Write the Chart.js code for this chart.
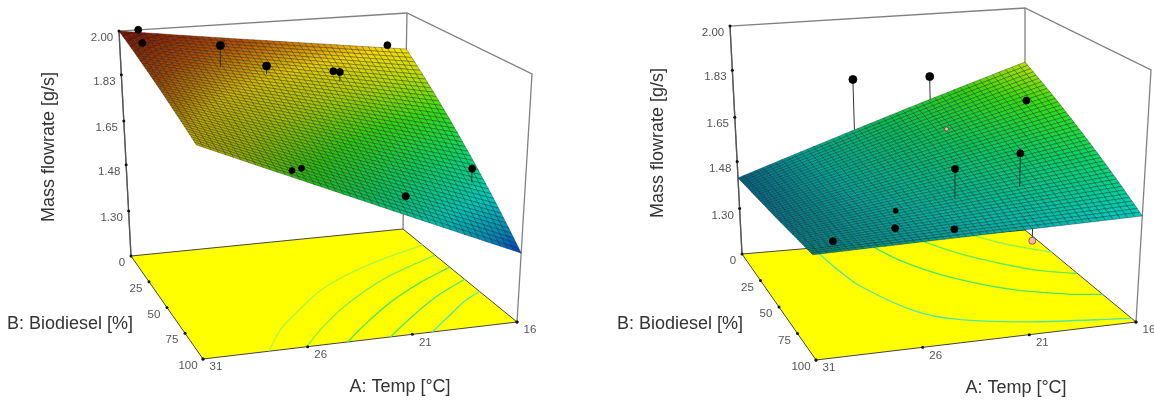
<!DOCTYPE html>
<html>
<head>
<meta charset="utf-8">
<title>Mass flowrate response surfaces</title>
<script src="https://cdn.jsdelivr.net/npm/chart.js@4/dist/chart.umd.js"></script>
<style>
  html, body { margin: 0; padding: 0; background: #fff; }
  #wrap { display: flex; width: 1154px; height: 402px; overflow: hidden; }
  canvas { display: block; }
</style>
</head>
<body>
<div id="wrap">
  <canvas id="leftChart" width="577" height="402"></canvas>
  <canvas id="rightChart" width="577" height="402"></canvas>
</div>
<script>
// axis values
const tempTicks = [31, 26, 21, 16];
const bioTicks = [0, 25, 50, 75, 100];
const flowTicks = [1.30, 1.48, 1.65, 1.83, 2.00];
const flowFloor = 1.125;

// surface heights, rows follow tempTicks, columns bioTicks
const leftSurface = [
    [2.000, 1.963, 1.926, 1.888, 1.851],
    [1.951, 1.886, 1.820, 1.755, 1.690],
    [1.903, 1.810, 1.716, 1.623, 1.529],
    [1.854, 1.733, 1.611, 1.490, 1.368]
];
const rightSurface = [
    [1.417, 1.432, 1.446, 1.461, 1.475],
    [1.540, 1.525, 1.510, 1.496, 1.481],
    [1.664, 1.620, 1.576, 1.531, 1.487],
    [1.787, 1.714, 1.640, 1.567, 1.493]
];

// design points: temp, biodiesel, measured flow, fitted flow under the point
const leftPointTemp = [30.0, 30.25, 26.8, 24.55, 20.8, 20.8, 17.0, 26.5, 25.9, 20.9, 16.75];
const leftPointBio = [0, 11, 23, 24, 23, 17, 0, 95, 91, 88, 69];
const leftPointFlow = [2.000, 1.980, 1.985, 1.897, 1.851, 1.838, 1.875, 1.720, 1.713, 1.572, 1.588];
const leftPointFit = [1.990, 1.974, 1.903, 1.867, 1.814, 1.836, 1.863, 1.718, 1.711, 1.570, 1.538];

const rightPointTemp = [24.85, 20.9, 17.2, 21.25, 23.2, 20.2, 26.0, 26.65, 24.25, 29.65, 19.75];
const rightPointBio = [0, 0, 21, 22, 70, 71, 70, 85, 93, 88, 75];
const rightPointFlow = [1.764, 1.755, 1.702, 1.620, 1.626, 1.664, 1.498, 1.487, 1.490, 1.474, 1.362];
const rightPointFit = [1.569, 1.665, 1.702, 1.620, 1.522, 1.545, 1.498, 1.487, 1.490, 1.474, 1.540];

// contour lines on the floor: level, then temp and biodiesel along the line
const leftContourLevels = [1.75, 1.69, 1.62, 1.56, 1.50];
const leftContourTemp = [
    [27.85, 26.5, 25, 22.75, 19.75, 16],
    [26.05, 24.7, 22.75, 19.75, 16],
    [24.1, 22.75, 20.5, 18.25, 16],
    [22.05, 20.5, 18.25, 16],
    [20.05, 18.7, 17.2, 16]
];
const leftContourBio = [
    [100, 81, 66, 47, 31, 17],
    [100, 85, 67, 46, 28],
    [100, 87, 68, 53, 41],
    [100, 86, 68, 54],
    [100, 88, 75, 67]
];
const rightContourLevels = [1.715, 1.645, 1.58, 1.51];
const rightContourTemp = [
    [18.9, 17.95, 17.05, 16],
    [21.75, 20.5, 19, 17.5, 16],
    [24.4, 23.5, 22, 19.75, 17.5, 16],
    [27.25, 26.95, 26.5, 25, 23.5, 20.5, 16]
];
const rightContourBio = [
    [0, 10, 17, 24],
    [0, 16, 30, 41, 47],
    [0, 19, 38, 56, 66, 70],
    [0, 19, 38, 66, 78, 88, 96]
];

// how each box sits on the page, key is temp/bio end + floor or top
const leftView = {
    min: 0, max: 577,
    c31_0f: [131, 256], c31_0t: [119, 31],
    c31_100f: [203, 359], c31_100t: [195, 101],
    c16_0f: [403, 229], c16_0t: [407, 13],
    c16_100f: [517, 322], c16_100t: [532, 74],
    radii: [3.5, 3.5, 4, 4, 3.5, 3.5, 3.5, 3, 3, 3.5, 3.5],
    fills: {},
    flowTitle: [49, 147], bioTitle: [70, 324], tempTitle: [400, 387]
};
const rightView = {
    min: 577, max: 1154,
    c31_0f: [742, 254], c31_0t: [730, 26],
    c31_100f: [816, 360], c31_100t: [808, 97],
    c16_0f: [1025, 230], c16_0t: [1025, 8],
    c16_100f: [1136, 322], c16_100t: [1151, 70],
    radii: [4, 4, 3.5, 2, 3.5, 3.5, 2.5, 3.5, 3.5, 3.5, 3.5],
    fills: { 3: '#f4b6b6', 10: '#f4b6b6' },
    flowTitle: [658, 143], bioTitle: [680, 324], tempTitle: [1016, 388]
};

const colourStops = [
    [1.37, 0, 60, 190],
    [1.42, 0, 135, 185],
    [1.50, 0, 205, 185],
    [1.60, 10, 215, 100],
    [1.70, 50, 225, 20],
    [1.79, 190, 225, 0],
    [1.86, 255, 225, 0],
    [1.93, 215, 100, 0],
    [2.00, 165, 20, 0]
];
const contourStops = [
    [1.50, 80, 230, 180],
    [1.60, 70, 230, 90],
    [1.75, 170, 245, 70]
];

function stopColour(stops, z, shade) {
    let i = 0;
    while (i < stops.length - 2 && z > stops[i + 1][0]) i++;
    const a = stops[i], b = stops[i + 1];
    const t = Math.min(1, Math.max(0, (z - a[0]) / (b[0] - a[0])));
    const mix = k => Math.round((a[k] + (b[k] - a[k]) * t) * (shade || 1));
    return 'rgb(' + mix(1) + ',' + mix(2) + ',' + mix(3) + ')';
}

// value -> page position inside the box
function project(view, temp, bio, flow) {
    const a = (31 - temp) / 15, b = bio / 100, c = (flow - flowFloor) / (2 - flowFloor);
    const corner = k => {
        const f = (1 - a) * (1 - b) * view.c31_0f[k] + a * (1 - b) * view.c16_0f[k]
            + (1 - a) * b * view.c31_100f[k] + a * b * view.c16_100f[k];
        const t = (1 - a) * (1 - b) * view.c31_0t[k] + a * (1 - b) * view.c16_0t[k]
            + (1 - a) * b * view.c31_100t[k] + a * b * view.c16_100t[k];
        return f + (t - f) * c;
    };
    return { x: corner(0), y: corner(1) };
}

function wire(points, colour, width) {
    return {
        data: points, showLine: true, borderColor: colour, borderWidth: width,
        pointRadius: 0, fill: false
    };
}

// lookup in the read table, only to lay the fine drawing mesh over it
function meshFlow(table, i, j, perTemp, perBio) {
    const r = Math.min(Math.floor(i / perTemp), table.length - 2);
    const c = Math.min(Math.floor(j / perBio), table[0].length - 2);
    const u = i / perTemp - r, v = j / perBio - c;
    return (1 - u) * (1 - v) * table[r][c] + u * (1 - v) * table[r + 1][c]
        + (1 - u) * v * table[r][c + 1] + u * v * table[r + 1][c + 1];
}

function buildDatasets(view, surface, pointTemp, pointBio, pointFlow, pointFit, levels, contourTemp, contourBio) {
    const sets = [];
    const P = (t, b, z) => project(view, t, b, z);
    const top = 2, low = flowFloor, boxGrey = '#808080';

    // back walls of the box
    sets.push(wire([P(31, 0, low), P(31, 0, top), P(16, 0, top), P(16, 100, top), P(16, 100, low)], boxGrey, 1.3));
    sets.push(wire([P(16, 0, top), P(16, 0, low)], boxGrey, 1.3));
    sets.push(wire([P(31, 0, low), P(31, 0, top)], '#555', 1.3));

    // floor
    sets.push({
        data: [P(31, 0, low), P(16, 0, low), P(16, 100, low), P(31, 100, low), P(31, 0, low)],
        showLine: true, fill: 'shape', backgroundColor: '#ffff00', borderColor: '#444',
        borderWidth: 1, pointRadius: 0
    });
    levels.forEach((level, n) => {
        const line = contourTemp[n].map((t, k) => P(t, contourBio[n][k], low));
        const set = wire(line, stopColour(contourStops, level), 1.3);
        set.tension = 0.35;
        sets.push(set);
    });

    // stems are under the surface layer only when the point is below it
    const stems = (below) => {
        pointTemp.forEach((t, k) => {
            if ((pointFlow[k] < pointFit[k]) !== below) return;
            sets.push(wire([P(t, pointBio[k], pointFit[k]), P(t, pointBio[k], pointFlow[k])], '#333', 1));
        });
    };
    stems(true);

    // surface, one filled cell per mesh square, the 31 side falls in shadow
    const perTemp = 15, perBio = 11;
    const rows = perTemp * (surface.length - 1), cols = perBio * (surface[0].length - 1);
    const tempAt = i => 31 - 15 * i / rows, bioAt = j => 100 * j / cols;
    for (let i = 0; i < rows; i++) {
        const shade = 0.74 + 0.26 * (i + 0.5) / rows;
        for (let j = 0; j < cols; j++) {
            const z00 = meshFlow(surface, i, j, perTemp, perBio);
            const z10 = meshFlow(surface, i + 1, j, perTemp, perBio);
            const z01 = meshFlow(surface, i, j + 1, perTemp, perBio);
            const z11 = meshFlow(surface, i + 1, j + 1, perTemp, perBio);
            const pts = [
                P(tempAt(i), bioAt(j), z00), P(tempAt(i + 1), bioAt(j), z10),
                P(tempAt(i + 1), bioAt(j + 1), z11), P(tempAt(i), bioAt(j + 1), z01),
                P(tempAt(i), bioAt(j), z00)
            ];
            sets.push({
                data: pts, showLine: true, fill: 'shape',
                backgroundColor: stopColour(colourStops, (z00 + z10 + z01 + z11) / 4, shade),
                borderColor: 'rgba(0,0,0,0.38)', borderWidth: 0.8, pointRadius: 0
            });
        }
    }

    stems(false);

    // axis tick marks
    const tickPts = [];
    flowTicks.forEach(z => tickPts.push(P(31, 0, z)));
    bioTicks.forEach(b => tickPts.push(P(31, b, low)));
    tempTicks.forEach(t => tickPts.push(P(t, 100, low)));
    tickPts.push(P(16, 100, low));
    sets.push({
        data: tickPts, showLine: false, pointRadius: 1.5,
        pointBackgroundColor: '#111', pointBorderWidth: 0
    });

    // design points
    const fills = view.fills;
    sets.push({
        data: pointTemp.map((t, k) => P(t, pointBio[k], pointFlow[k])),
        showLine: false,
        pointRadius: view.radii,
        pointBackgroundColor: pointTemp.map((t, k) => fills[k] || '#000'),
        pointBorderColor: pointTemp.map((t, k) => fills[k] ? '#7a3a3a' : '#000'),
        pointBorderWidth: 0.8
    });

    // chart.js paints the first dataset last
    return sets.reverse();
}

const axisText = {
    id: 'axisText',
    afterDraw(chart, args, opts) {
        const view = opts.view, ctx = chart.ctx;
        const sx = chart.scales.x, sy = chart.scales.y;
        const put = (text, pos, dx, dy, size, colour, rotate) => {
            ctx.save();
            ctx.translate(sx.getPixelForValue(pos.x + dx), sy.getPixelForValue(pos.y + dy));
            if (rotate) ctx.rotate(-Math.PI / 2);
            ctx.font = size + 'px "Liberation Sans", Arial, sans-serif';
            ctx.fillStyle = colour;
            ctx.textAlign = 'center';
            ctx.textBaseline = 'middle';
            ctx.fillText(text, 0, 0);
            ctx.restore();
        };
        const tickColour = '#555', titleColour = '#333';
        flowTicks.forEach(z => put(z.toFixed(2), project(view, 31, 0, z), -17, 7, 11.5, tickColour));
        bioTicks.forEach(b => {
            const dx = b === 0 ? -9 : b === 100 ? -15 : -13;
            put(String(b), project(view, 31, b, flowFloor), dx, 7, 11.5, tickColour);
        });
        tempTicks.forEach(t => put(String(t), project(view, t, 100, flowFloor), 13, 8, 11.5, tickColour));
        const title = (text, at, rotate) => put(text, { x: at[0], y: at[1] }, 0, 0, 18, titleColour, rotate);
        title('Mass flowrate [g/s]', view.flowTitle, true);
        title('B: Biodiesel [%]', view.bioTitle);
        title('A: Temp [\u00b0C]', view.tempTitle);
    }
};

function drawPanel(id, view, datasets) {
    return new Chart(document.getElementById(id).getContext('2d'), {
        type: 'scatter',
        data: { datasets: datasets },
        plugins: [axisText],
        options: {
            responsive: false,
            animation: false,
            events: [],
            parsing: false,
            normalized: true,
            devicePixelRatio: 1,
            layout: { padding: 0, autoPadding: false },
            scales: {
                x: { type: 'linear', display: false, min: view.min, max: view.max },
                y: { type: 'linear', display: false, min: 0, max: 402, reverse: true }
            },
            plugins: {
                legend: { display: false },
                tooltip: { enabled: false },
                axisText: { view: view }
            },
            datasets: { scatter: { clip: false } }
        }
    });
}

document.addEventListener('DOMContentLoaded', () => {
    drawPanel('leftChart', leftView, buildDatasets(leftView, leftSurface,
        leftPointTemp, leftPointBio, leftPointFlow, leftPointFit,
        leftContourLevels, leftContourTemp, leftContourBio));
    drawPanel('rightChart', rightView, buildDatasets(rightView, rightSurface,
        rightPointTemp, rightPointBio, rightPointFlow, rightPointFit,
        rightContourLevels, rightContourTemp, rightContourBio));
});
</script>
</body>
</html>
